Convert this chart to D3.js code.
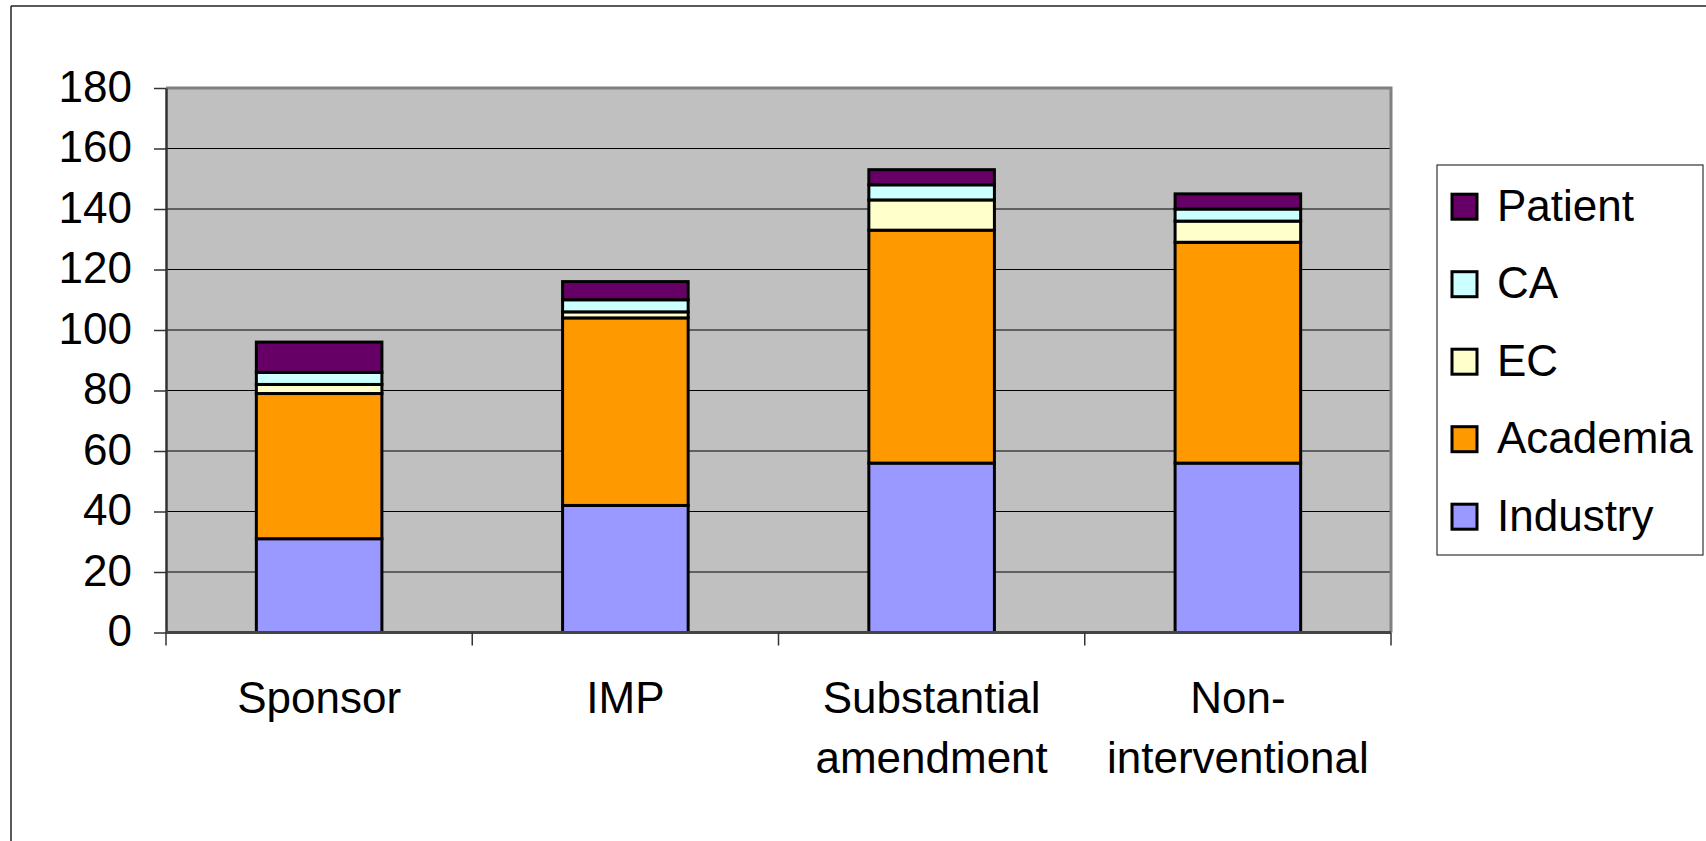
<!DOCTYPE html>
<html>
<head>
<meta charset="utf-8">
<script src="https://cdn.jsdelivr.net/npm/d3@7"></script>
<style>
  html, body { margin: 0; padding: 0; background: #fff; }
  svg { display: block; font-family: "Liberation Sans", Arial, sans-serif; }
</style>
</head>
<body>
<svg id="chart" width="1706" height="841"></svg>
<script>
// Categories (x axis), with line breaks for the two-line labels
const categories = ["Sponsor", "IMP", "Substantial amendment", "Non-interventional"];
const categoryLines = [["Sponsor"], ["IMP"], ["Substantial", "amendment"], ["Non-", "interventional"]];

// Stack order, bottom to top
const seriesNames = ["Industry", "Academia", "EC", "CA", "Patient"];
const industry = [31, 42, 56, 56];
const academia = [48, 62, 77, 73];
const ec       = [3, 2, 10, 7];
const ca       = [4, 4, 5, 4];
const patient  = [10, 6, 5, 5];

const seriesColors = ["#9999FF", "#FF9900", "#FFFFCC", "#CCFFFF", "#660066"];
const yTicks = [0, 20, 40, 60, 80, 100, 120, 140, 160, 180];

const rows = categories.map((c, i) => ({
  category: c,
  Industry: industry[i], Academia: academia[i], EC: ec[i], CA: ca[i], Patient: patient[i]
}));

const svg = d3.select("#chart");
const plot = { left: 166, right: 1391, top: 88, bottom: 632.5 };

// Outer chart frame (top and left edges visible)
svg.append("line").attr("x1", 11).attr("x2", 1706).attr("y1", 6).attr("y2", 6)
  .attr("stroke", "#222").attr("stroke-width", 1.5);
svg.append("line").attr("x1", 11).attr("x2", 11).attr("y1", 6).attr("y2", 841)
  .attr("stroke", "#222").attr("stroke-width", 1.5);

const x = d3.scaleBand().domain(categories).range([plot.left, plot.right]).padding(0);
const y = d3.scaleLinear().domain([0, 180]).range([plot.bottom, plot.top]);

// Plot area background
svg.append("rect")
  .attr("x", plot.left).attr("y", plot.top)
  .attr("width", plot.right - plot.left).attr("height", plot.bottom - plot.top)
  .attr("fill", "#C0C0C0");

// Horizontal gridlines
svg.append("g").selectAll("line")
  .data(yTicks.filter(t => t > 0 && t < 180))
  .join("line")
  .attr("x1", plot.left).attr("x2", plot.right)
  .attr("y1", d => y(d)).attr("y2", d => y(d))
  .attr("stroke", "#000").attr("stroke-width", 1.2);

// Plot area border: top and right in gray
svg.append("path")
  .attr("d", `M${plot.left},${plot.top}H${plot.right}V${plot.bottom}`)
  .attr("fill", "none").attr("stroke", "#808080").attr("stroke-width", 3);

// Stacked bars
const stack = d3.stack().keys(seriesNames)(rows);
const barW = x.bandwidth() * 0.41;
svg.append("g").selectAll("g")
  .data(stack)
  .join("g")
  .attr("fill", (d, i) => seriesColors[i])
  .selectAll("rect")
  .data(d => d)
  .join("rect")
  .attr("x", d => x(d.data.category) + (x.bandwidth() - barW) / 2)
  .attr("y", d => y(d[1]))
  .attr("width", barW)
  .attr("height", d => y(d[0]) - y(d[1]))
  .attr("stroke", "#000")
  .attr("stroke-width", 3);

// Y axis
const yAxis = svg.append("g")
  .attr("transform", `translate(${plot.left},0)`)
  .call(d3.axisLeft(y).tickValues(yTicks).tickSize(12).tickPadding(22).tickSizeOuter(0));
yAxis.select(".domain").attr("stroke", "#333").attr("stroke-width", 2.5);
yAxis.selectAll(".tick line").attr("stroke", "#333").attr("stroke-width", 1.5);
yAxis.selectAll(".tick text")
  .attr("font-size", 44).attr("fill", "#000")
  .attr("font-family", "'Liberation Sans', Arial, sans-serif")
  .attr("dy", "0.3em");

// X axis: ticks at category boundaries
const xAxisG = svg.append("g");
xAxisG.append("line")
  .attr("x1", plot.left).attr("x2", plot.right)
  .attr("y1", plot.bottom).attr("y2", plot.bottom)
  .attr("stroke", "#444").attr("stroke-width", 3);
const boundaries = categories.map(c => x(c)).concat([x(categories[categories.length - 1]) + x.bandwidth()]);
xAxisG.selectAll(".xtick")
  .data(boundaries)
  .join("line")
  .attr("class", "xtick")
  .attr("x1", d => d).attr("x2", d => d)
  .attr("y1", plot.bottom).attr("y2", plot.bottom + 13)
  .attr("stroke", "#333").attr("stroke-width", 1.5);

// Category labels
const labels = xAxisG.selectAll(".xlabel")
  .data(categories)
  .join("text")
  .attr("class", "xlabel")
  .attr("text-anchor", "middle")
  .attr("font-size", 44)
  .attr("fill", "#000");
labels.each(function(c, i) {
  const t = d3.select(this);
  categoryLines[i].forEach((line, j) => {
    t.append("tspan")
      .attr("x", x(c) + x.bandwidth() / 2)
      .attr("y", 713 + j * 60)
      .text(line);
  });
});

// Legend (top entry is the top of the stack)
const legend = svg.append("g");
legend.append("rect")
  .attr("x", 1437).attr("y", 165).attr("width", 266).attr("height", 390)
  .attr("fill", "#fff").attr("stroke", "#333").attr("stroke-width", 1.2);
const legendOrder = seriesNames.slice().reverse();
const legendY = d3.scalePoint().domain(legendOrder).range([206.7, 516.7]);
const items = legend.selectAll(".item")
  .data(legendOrder)
  .join("g")
  .attr("class", "item")
  .attr("transform", d => `translate(0,${legendY(d)})`);
items.append("rect")
  .attr("x", 1452).attr("y", -12.5).attr("width", 25).attr("height", 25)
  .attr("fill", d => seriesColors[seriesNames.indexOf(d)])
  .attr("stroke", "#000").attr("stroke-width", 3);
items.append("text")
  .attr("x", 1497).attr("y", 14)
  .attr("font-size", 44).attr("fill", "#000")
  .text(d => d);
</script>
</body>
</html>
